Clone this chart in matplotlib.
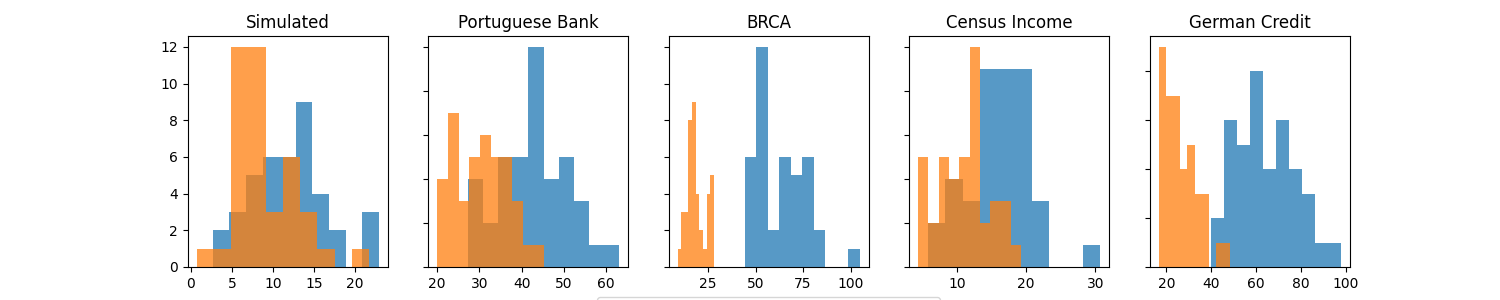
import matplotlib
matplotlib.use("Agg")
import matplotlib.pyplot as plt
import numpy as np

# dataset names (panel titles)
datasets = ["Simulated", "Portuguese Bank", "BRCA", "Census Income", "German Credit"]

# bin ranges (min, max) and counts, 10 bins each
blue_range = [(2.65, 22.9), (27.27, 63.1), (44.3, 104.9), (5.86, 30.72), (39.81, 97.9)]
blue_counts = [
    [2, 3, 5, 6, 6, 9, 4, 2, 0, 3],
    [4, 2, 5, 5, 10, 4, 5, 3, 1, 1],
    [6, 12, 2, 6, 5, 6, 2, 0, 0, 1],
    [2, 4, 3, 9, 9, 9, 3, 0, 0, 1],
    [2, 6, 5, 8, 4, 6, 4, 3, 1, 1],
]

orange_range = [(0.69, 21.7), (20.0, 45.3), (9.0, 28.0), (4.41, 19.30), (16.57, 48.6)]
orange_counts = [
    [1, 1, 12, 12, 3, 6, 3, 1, 0, 1],
    [4, 7, 3, 5, 6, 5, 5, 3, 1, 1],
    [1, 3, 3, 8, 9, 4, 2, 1, 4, 5],
    [5, 2, 5, 4, 5, 10, 2, 3, 3, 1],
    [9, 7, 7, 4, 5, 3, 3, 0, 1, 1],
]

# x tick positions as shown in the picture
xticks = [
    [0, 5, 10, 15, 20],
    [20, 30, 40, 50, 60],
    [25, 50, 75, 100],
    [10, 20, 30],
    [20, 40, 60, 80, 100],
]

labels = ["Protected group", "Reference group"]

fig, axes = plt.subplots(1, 5, figsize=(15, 3))

for i, ax in enumerate(axes):
    # blue first, orange drawn on top
    edges = np.linspace(blue_range[i][0], blue_range[i][1], len(blue_counts[i]) + 1)
    ax.hist(edges[:-1], bins=edges, weights=blue_counts[i], alpha=0.75, color="C0", label=labels[0])
    edges = np.linspace(orange_range[i][0], orange_range[i][1], len(orange_counts[i]) + 1)
    ax.hist(edges[:-1], bins=edges, weights=orange_counts[i], alpha=0.75, color="C1", label=labels[1])
    ax.set_title(datasets[i])
    ax.set_xticks(xticks[i])
    if i > 0:
        ax.tick_params(labelleft=False)

axes[2].legend(loc="upper center", bbox_to_anchor=(0.5, -0.1), ncol=2)

fig.savefig("out.png", dpi=100)
